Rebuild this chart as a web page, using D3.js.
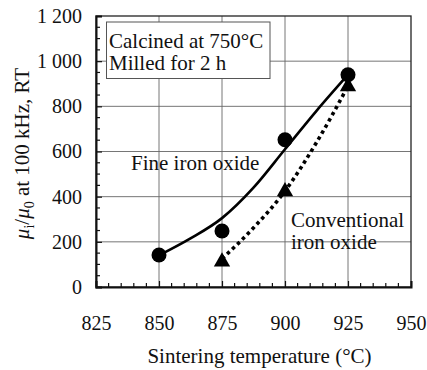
<!DOCTYPE html>
<html>
<head>
<meta charset="utf-8">
<script src="https://cdn.jsdelivr.net/npm/d3@7"></script>
<style>
  body { margin: 0; background: #fff; }
  svg text { font-family: "Liberation Serif", "Times New Roman", Times, "DejaVu Serif", serif; fill: #111; }
</style>
</head>
<body>
<script>
// measured points
var fineTemp = [850, 875, 900, 925];
var fineMu = [142, 248, 652, 940];
var convTemp = [875, 900, 925];
var convMu = [112, 423, 888];

// fitted curves
var fineFitTemp = [850, 862.5, 875, 887.5, 900, 912.5, 925];
var fineFitMu = [140, 215, 305, 440, 610, 780, 940];
var convFitTemp = [875, 887.5, 900, 912.5, 925];
var convFitMu = [125, 262, 425, 640, 890];

var xTicks = [825, 850, 875, 900, 925, 950];
var yTicks = [0, 200, 400, 600, 800, 1000, 1200];
var yTickLabels = ["0", "200", "400", "600", "800", "1 000", "1 200"];

var serif = "'Liberation Serif', 'Times New Roman', Times, 'DejaVu Serif', serif";

var W = 427, H = 370;
var margin = {top: 16, right: 16, bottom: 83, left: 96};

var svg = d3.select("body").append("svg")
    .attr("width", W)
    .attr("height", H)
    .attr("font-family", serif);

var x = d3.scaleLinear().domain([825, 950]).range([margin.left, W - margin.right]);
var y = d3.scaleLinear().domain([0, 1200]).range([H - margin.bottom, margin.top]);

// grid
var grid = svg.append("g").attr("stroke", "#666").attr("stroke-width", 0.9);
grid.selectAll(".gx").data(xTicks.slice(1, -1)).enter().append("line")
    .attr("x1", d => x(d)).attr("x2", d => x(d))
    .attr("y1", y(0)).attr("y2", y(1200));
grid.selectAll(".gy").data(yTicks.slice(1, -1)).enter().append("line")
    .attr("x1", x(825)).attr("x2", x(950))
    .attr("y1", d => y(d)).attr("y2", d => y(d));

// frame
svg.append("rect")
    .attr("x", x(825)).attr("y", y(1200))
    .attr("width", x(950) - x(825)).attr("height", y(0) - y(1200))
    .attr("fill", "none").attr("stroke", "#222").attr("stroke-width", 1.3);

// axes, ticks pointing inward
var yAxis = d3.axisLeft(y).tickValues(yTicks).tickSize(-6).tickPadding(14)
    .tickFormat((d, i) => yTickLabels[i]);
var gy = svg.append("g").attr("transform", "translate(" + margin.left + ",0)").call(yAxis);
var xAxis = d3.axisBottom(x).tickValues(xTicks).tickSize(-6).tickPadding(29)
    .tickFormat(d3.format("d"));
var gx = svg.append("g").attr("transform", "translate(0," + (H - margin.bottom) + ")").call(xAxis);

// minor ticks
var yMinor = d3.range(50, 1200, 50).filter(d => d % 200 !== 0);
svg.append("g").selectAll("line").data(yMinor).enter().append("line")
    .attr("x1", x(825)).attr("x2", x(825) + 4)
    .attr("y1", d => y(d)).attr("y2", d => y(d))
    .attr("stroke", "#111").attr("stroke-width", 1.2);
var xMinor = d3.range(830, 950, 5).filter(d => d % 25 !== 0);
svg.append("g").selectAll("line").data(xMinor).enter().append("line")
    .attr("x1", d => x(d)).attr("x2", d => x(d))
    .attr("y1", y(0)).attr("y2", y(0) - 4)
    .attr("stroke", "#111").attr("stroke-width", 1.2);

[gx, gy].forEach(function(g) {
  g.attr("font-family", serif).attr("font-size", 20);
  g.select(".domain").attr("stroke", "#111").attr("stroke-width", 2);
  g.selectAll(".tick line").attr("stroke", "#111").attr("stroke-width", 1.2);
  g.selectAll(".tick text").attr("fill", "#111");
});

// annotation box
var box = svg.append("g");
box.append("rect")
    .attr("x", 106.5).attr("y", 22).attr("width", 163.5).attr("height", 56.5)
    .attr("fill", "#fff").attr("stroke", "#555").attr("stroke-width", 1);
box.append("text").attr("x", 109).attr("y", 48).attr("font-size", 21).text("Calcined at 750°C");
box.append("text").attr("x", 109).attr("y", 70).attr("font-size", 21).text("Milled for 2 h");

// fit curves
var line = d3.line().x(d => x(d[0])).y(d => y(d[1])).curve(d3.curveMonotoneX);
svg.append("path")
    .datum(d3.zip(fineFitTemp, fineFitMu))
    .attr("d", line)
    .attr("fill", "none").attr("stroke", "#000").attr("stroke-width", 2.6);
svg.append("path")
    .datum(d3.zip(convFitTemp, convFitMu))
    .attr("d", line)
    .attr("fill", "none").attr("stroke", "#000").attr("stroke-width", 3.6)
    .attr("stroke-dasharray", "3.5 3.5");

// markers
svg.append("g").selectAll("circle").data(d3.zip(fineTemp, fineMu)).enter().append("circle")
    .attr("cx", d => x(d[0])).attr("cy", d => y(d[1])).attr("r", 7.5).attr("fill", "#000");
var tri = d3.symbol().type(d3.symbolTriangle).size(115);
svg.append("g").selectAll("path").data(d3.zip(convTemp, convMu)).enter().append("path")
    .attr("d", tri)
    .attr("transform", d => "translate(" + x(d[0]) + "," + y(d[1]) + ")")
    .attr("fill", "#000");

// series labels
svg.append("text").attr("x", 131).attr("y", 170).attr("font-size", 21).text("Fine iron oxide");
svg.append("text").attr("x", 291).attr("y", 227).attr("font-size", 21).text("Conventional");
svg.append("text").attr("x", 291).attr("y", 249).attr("font-size", 21).text("iron oxide");

// axis titles
svg.append("text")
    .attr("x", (x(825) + x(950)) / 2 + 6).attr("y", 363)
    .attr("text-anchor", "middle").attr("font-size", 21)
    .text("Sintering temperature (°C)");

var yl = svg.append("text")
    .attr("transform", "translate(29," + ((y(0) + y(1200)) / 2 + 2) + ") rotate(-90)")
    .attr("text-anchor", "middle").attr("font-size", 21);
yl.append("tspan").attr("font-style", "italic").text("μ");
yl.append("tspan").attr("dy", 5).attr("font-size", 14).text("i");
yl.append("tspan").attr("dy", -5).text("/");
yl.append("tspan").attr("font-style", "italic").text("μ");
yl.append("tspan").attr("dy", 5).attr("font-size", 14).text("0");
yl.append("tspan").attr("dy", -5).text(" at 100 kHz, RT");
</script>
</body>
</html>
